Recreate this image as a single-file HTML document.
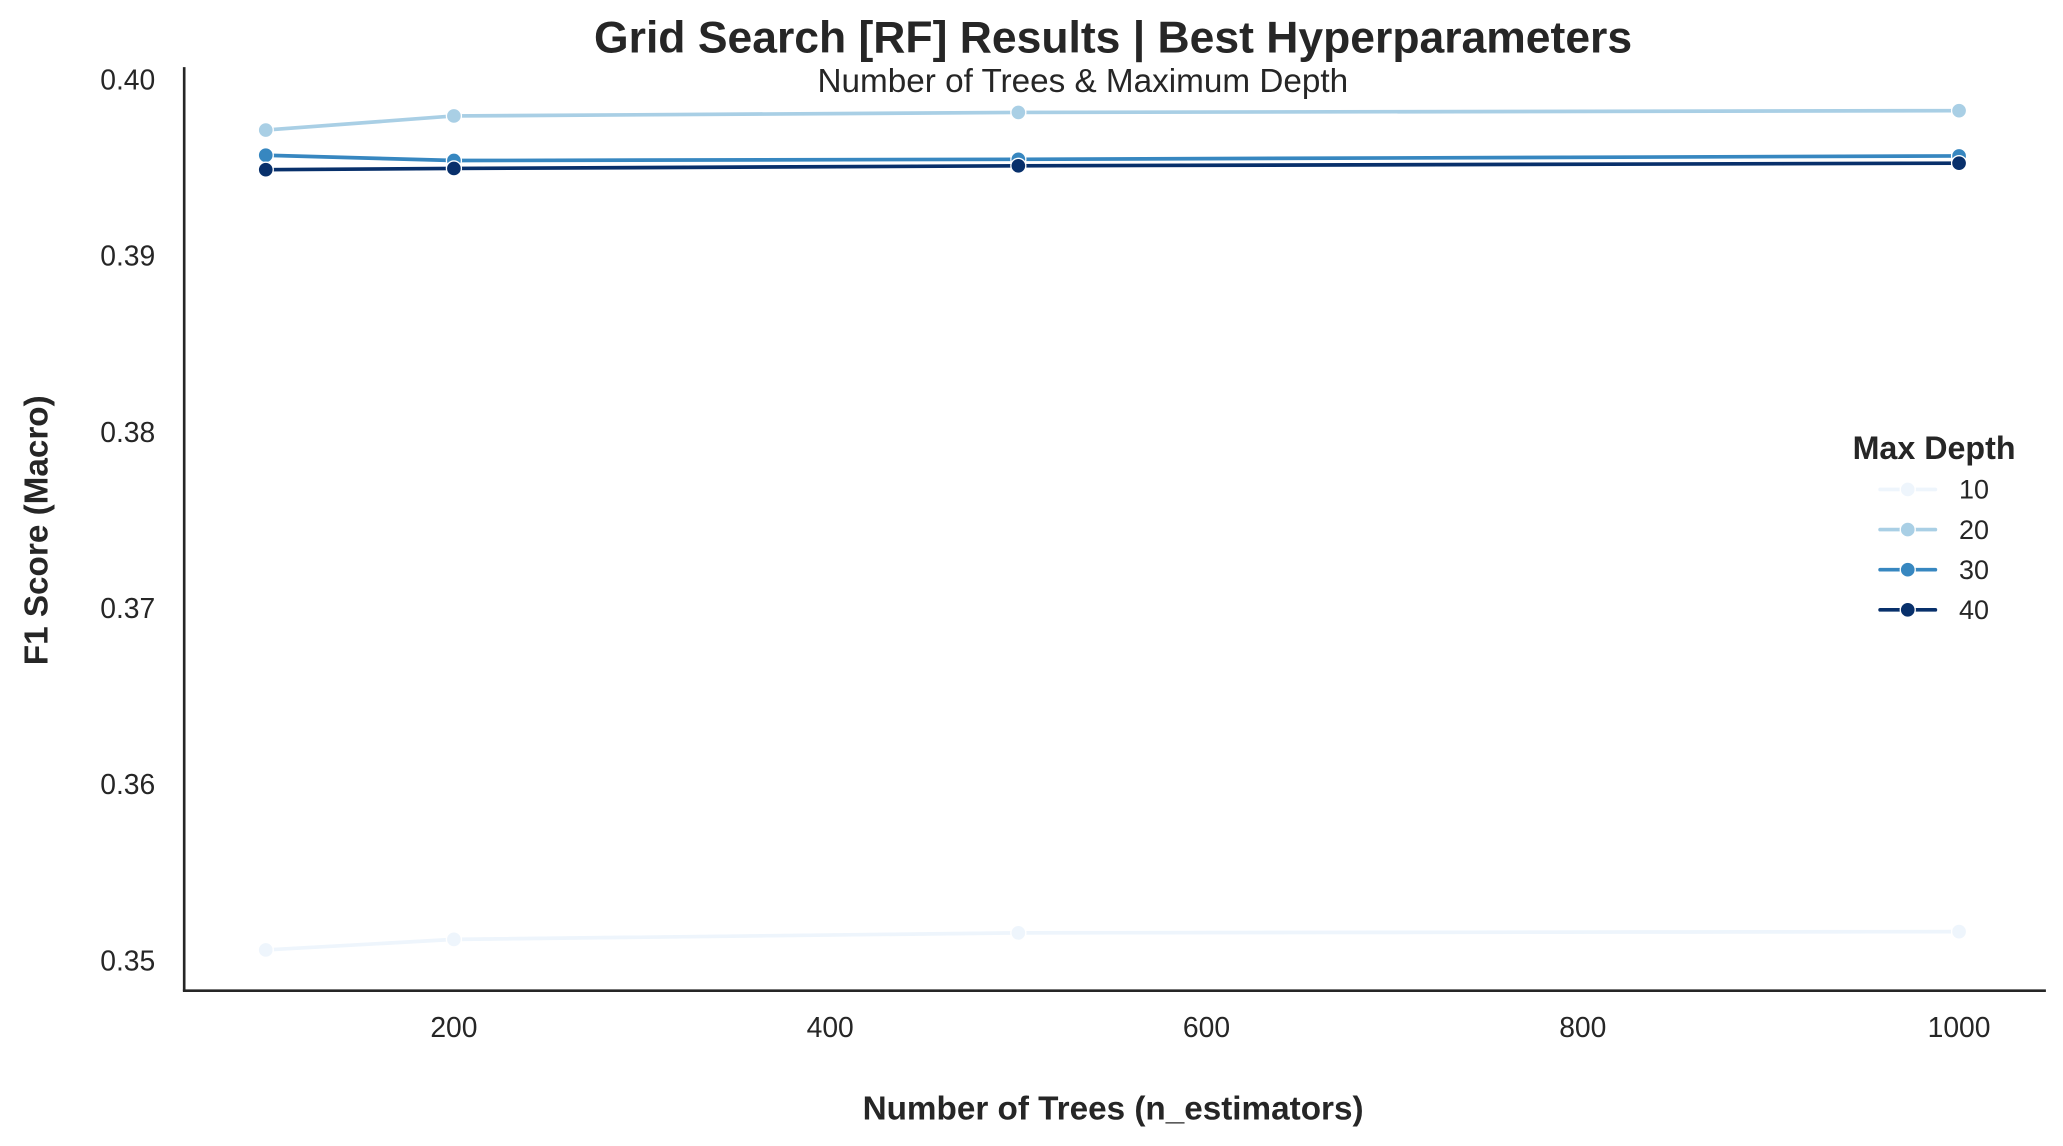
<!DOCTYPE html>
<html><head><meta charset="utf-8"><style>
html,body{margin:0;padding:0;background:#fff;}
svg{display:block;font-family:"Liberation Sans",Arial,sans-serif;}
</style></head><body>
<svg id="chart" width="2063" height="1146" viewBox="0 0 1568 871" xmlns="http://www.w3.org/2000/svg">
<rect width="1568" height="871" fill="#fff"/>
<text x="846" y="40" text-anchor="middle" font-size="33.8" font-weight="bold" fill="#262626">Grid Search [RF] Results | Best Hyperparameters</text>
<text x="823" y="70" text-anchor="middle" font-size="25.3" fill="#262626">Number of Trees &amp; Maximum Depth</text>
<g id="axes"></g>
<g id="series"></g>
<text transform="translate(36,403) rotate(-90)" text-anchor="middle" font-size="25.3" font-weight="bold" fill="#262626">F1 Score (Macro)</text>
<text x="846" y="851" text-anchor="middle" font-size="25.3" font-weight="bold" fill="#262626">Number of Trees (n_estimators)</text>
<g id="legend"></g>
</svg>
<script>
const categories = [100, 200, 500, 1000];
const depths = ["10", "20", "30", "40"];
const series10 = [0.35056, 0.35116, 0.35153, 0.3516];
const series20 = [0.3971, 0.3979, 0.3981, 0.3982];
const series30 = [0.39567, 0.39537, 0.39544, 0.39563];
const series40 = [0.39485, 0.39492, 0.39507, 0.39522];
const xTicks = [200, 400, 600, 800, 1000];
const yTicks = [0.35, 0.36, 0.37, 0.38, 0.39, 0.40];

const NS = "http://www.w3.org/2000/svg";
const colors = ["#eef5fc", "#a9cfe5", "#3787c0", "#08306b"];
function xs(v){ return 202 + (v - 100) * (286 / 200); }
function ys(v){ return 60 + (0.40 - v) * 13390; }
function mk(tag, attrs, parent){
  const e = document.createElementNS(NS, tag);
  for (const k in attrs) e.setAttribute(k, attrs[k]);
  parent.appendChild(e); return e;
}
const axes = document.getElementById('axes');
const yAxis = mk('line', {x1:140, y1:51, x2:140, y2:753, stroke:'#262626', 'stroke-width':2}, axes);


const xAxis = mk('line', {x1:139, y1:753, x2:1555, y2:753, stroke:'#262626', 'stroke-width':2}, axes);


xTicks.forEach(t => {
  const e = mk('text', {x: xs(t), y: 788, 'text-anchor':'middle', 'font-size':21.5, fill:'#262626'}, axes);
  e.textContent = t;
  
  
});
yTicks.forEach(t => {
  const e = mk('text', {x: 118, y: ys(t) + 8, 'text-anchor':'end', 'font-size':21.5, fill:'#262626'}, axes);
  e.textContent = t.toFixed(2);
  
  
});
const allSeries = [series10, series20, series30, series40];
const sg = document.getElementById('series');
allSeries.forEach((s, i) => {
  const g = mk('g', {}, sg);
  
  
  const pts = s.map((v, j) => xs(categories[j]) + ',' + ys(v)).join(' ');
  const pl = mk('polyline', {points: pts, fill:'none', stroke: colors[i], 'stroke-width':2.8, 'stroke-linejoin':'round'}, g);
  
  
  s.forEach((v, j) => {
    const c = mk('circle', {cx: xs(categories[j]), cy: ys(v), r:5.7, fill: colors[i], stroke:'#fff', 'stroke-width':1}, g);
    
    
  });
});
const lg = document.getElementById('legend');
const lt = mk('text', {x:1470, y:349, 'text-anchor':'middle', 'font-size':24.5, 'font-weight':'bold', fill:'#262626'}, lg);
lt.textContent = 'Max Depth';


depths.forEach((d, i) => {
  const y = 372 + i * 30.5;
  const g = mk('g', {}, lg);
  
  
  mk('line', {x1:1429, y1:y, x2:1471, y2:y, stroke: colors[i], 'stroke-width':2.8, 'stroke-linecap':'round'}, g);
  mk('circle', {cx:1450, cy:y, r:5.7, fill: colors[i], stroke:'#fff', 'stroke-width':1}, g);
  const t = mk('text', {x:1489, y:y + 7, 'font-size':20.5, fill:'#262626'}, g);
  t.textContent = d;
});
</script>
</body></html>
